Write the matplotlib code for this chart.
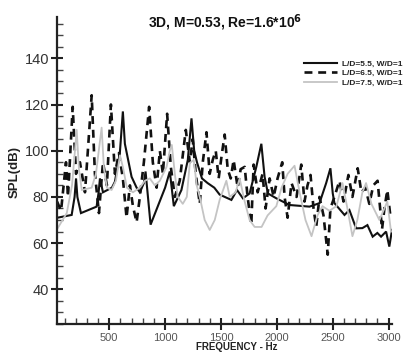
import matplotlib
matplotlib.use("Agg")
import matplotlib.pyplot as plt
from matplotlib.ticker import MultipleLocator

plt.rcParams['font.family'] = ['Liberation Sans', 'DejaVu Sans']

title = "3D, M=0.53, Re=1.6*10$^{\\mathbf{6}}$"
xlabel = "FREQUENCY - Hz"
ylabel = "SPL(dB)"
legend_labels = ["L/D=5.5, W/D=1", "L/D=6.5, W/D=1", "L/D=7.5, W/D=1"]

# L/D=5.5 (solid black)
f_55 = [36, 164, 190, 203, 215, 247, 387, 405, 417, 444, 524, 551, 595, 622, 640, 700, 745, 774,
        810, 825, 870, 1000, 1042, 1078, 1146, 1203, 1236, 1260, 1285, 1330, 1380, 1440, 1488,
        1593, 1643, 1696, 1756, 1816, 1861, 1890, 1920, 1995, 2113, 2292, 2381, 2441, 2479, 2500,
        2515, 2605, 2649, 2709, 2765, 2810, 2857, 2899, 2932, 2977, 3006, 3030]
spl_55 = [71, 72.2, 80, 88, 80, 73, 75.8, 82, 88, 82, 84, 86.6, 99, 117, 103, 88.7, 84, 82,
          86, 91, 68, 84, 91, 76, 83, 96, 114, 100, 95, 88, 86, 84, 81,
          78.7, 83, 79.4, 81.5, 93, 103, 88.7, 81.5, 79.4, 76.5, 75.8, 77.3, 86, 92.4, 81.5,
          77.3, 72.2, 74.3, 66.4, 66.5, 67.8, 62.8, 64.4, 62.8, 65, 58.5, 65.7]

# L/D=6.5 (dashed black)
f_65 = [33, 69, 113, 131, 173, 203, 238, 283, 343, 372, 408, 444, 479, 515, 551, 587, 622, 655,
        685, 712, 745, 774, 810, 857, 890, 924, 953, 980, 1018, 1051, 1087, 1131, 1158, 1185,
        1221, 1247, 1274, 1310, 1337, 1370, 1399, 1426, 1453, 1479, 1506, 1533, 1560, 1587, 1613,
        1649, 1676, 1712, 1738, 1771, 1792, 1828, 1872, 1899, 1935, 1971, 2006, 2048, 2069, 2096,
        2131, 2176, 2218, 2247, 2274, 2301, 2328, 2352, 2381, 2417, 2455, 2479, 2515, 2560, 2596,
        2640, 2676, 2723, 2756, 2792, 2827, 2863, 2901, 2941, 2962, 2988, 3015]
spl_65 = [78, 74, 95, 80, 119, 90, 95, 82, 124, 90, 73, 95, 85, 120, 90, 99, 88, 71,
          85, 76, 69, 80, 95, 119, 95, 84, 100, 90, 116, 93, 80, 87, 98, 109,
          95, 105, 90, 77, 95, 108, 90, 96, 100, 88, 98, 107, 92, 88, 96,
          84, 92, 93, 80, 68, 94, 82, 90, 75, 88, 80, 88, 95, 80, 71,
          86, 80, 94, 78, 85, 89.5, 75, 67, 80, 72, 55, 75, 80, 87, 78,
          89.5, 80, 92.4, 82, 84, 77, 85, 87, 66, 75, 83, 72]

# L/D=7.5 (light grey)
f_75 = [33, 120, 167, 209, 229, 254, 343, 381, 432, 453, 479, 521, 560, 596, 622, 658, 712, 774,
        819, 863, 908, 953, 1013, 1042, 1060, 1087, 1113, 1158, 1194, 1221, 1256, 1283, 1310,
        1354, 1399, 1444, 1488, 1548, 1578, 1631, 1667, 1712, 1756, 1801, 1863, 1917, 1995, 2042,
        2096, 2158, 2203, 2256, 2310, 2363, 2408, 2470, 2533, 2587, 2631, 2676, 2720, 2765, 2798,
        2846, 2917, 2962, 2988, 3021]
spl_75 = [66, 73, 85, 109, 92, 83, 84, 90, 110, 92, 84, 83, 87, 98, 93, 84, 82, 84,
          87, 88, 85, 87, 93, 100, 102.5, 90, 80, 77, 80, 94.7, 96, 85, 80,
          70, 65.7, 70, 78.7, 87, 80, 82, 88, 78, 70, 67, 67, 72, 76, 84,
          90, 93.5, 82, 70, 63, 72, 76, 74, 76, 86, 75, 63, 70, 82, 86,
          77, 70, 75, 78, 65]

W, H = 403, 354
fig = plt.figure(figsize=(W / 100, H / 100), dpi=100)
ax = fig.add_axes([56.7 / W, 1 - 324 / H, (392 - 56.7) / W, (324 - 16.7) / H])

l1, = ax.plot(f_55, spl_55, color='#111111', lw=1.5, solid_joinstyle='miter')
l2, = ax.plot(f_65, spl_65, color='#111111', lw=1.9, linestyle=(0, (3.0, 2.2)))
l3, = ax.plot(f_75, spl_75, color='#c4c4c4', lw=1.3)

ax.set_xlim(30, 3030)
ax.set_ylim(25, 158)
ax.xaxis.set_minor_locator(MultipleLocator(100))
ax.yaxis.set_minor_locator(MultipleLocator(5))
ax.set_xticks([500, 1000, 1500, 2000, 2500, 3000])
ax.set_yticks([40, 60, 80, 100, 120, 140])

for s in ['top', 'right']:
    ax.spines[s].set_visible(False)
for s in ['left', 'bottom']:
    ax.spines[s].set_linewidth(1.6)
    ax.spines[s].set_color('#222222')

ax.tick_params(axis='both', which='major', direction='inout', length=9, width=1.5, color='#222222')
ax.tick_params(axis='both', which='minor', direction='in', length=4, width=1.0, color='#444444')
ax.tick_params(axis='x', which='major', labelsize=8, labelcolor='#555555', pad=2)
ax.tick_params(axis='y', which='major', labelsize=10.5, labelcolor='#333333', pad=1)

fig.text(225 / W, 1 - 23 / H, title, ha='center', va='center', fontsize=10, fontweight='bold', color='#111111')
fig.text(237 / W, 1 - 347 / H, xlabel, ha='center', va='center', fontsize=7, fontweight='bold', color='#222222')
fig.text(15 / W, 1 - 172 / H, ylabel, ha='center', va='center', rotation=90, fontsize=9.5, fontweight='bold', color='#222222')

leg = ax.legend([l1, l2, l3], legend_labels, loc='upper left',
                bbox_to_anchor=((304 - 56.7) / (392 - 56.7), (324 - 60) / (324 - 16.7)),
                frameon=False, fontsize=6, handlelength=4.0, handletextpad=0.6,
                labelspacing=0.2, borderpad=0, borderaxespad=0)
for t in leg.get_texts():
    t.set_fontweight('bold')
    t.set_color('#222222')

fig.savefig('out.png', dpi=100)
